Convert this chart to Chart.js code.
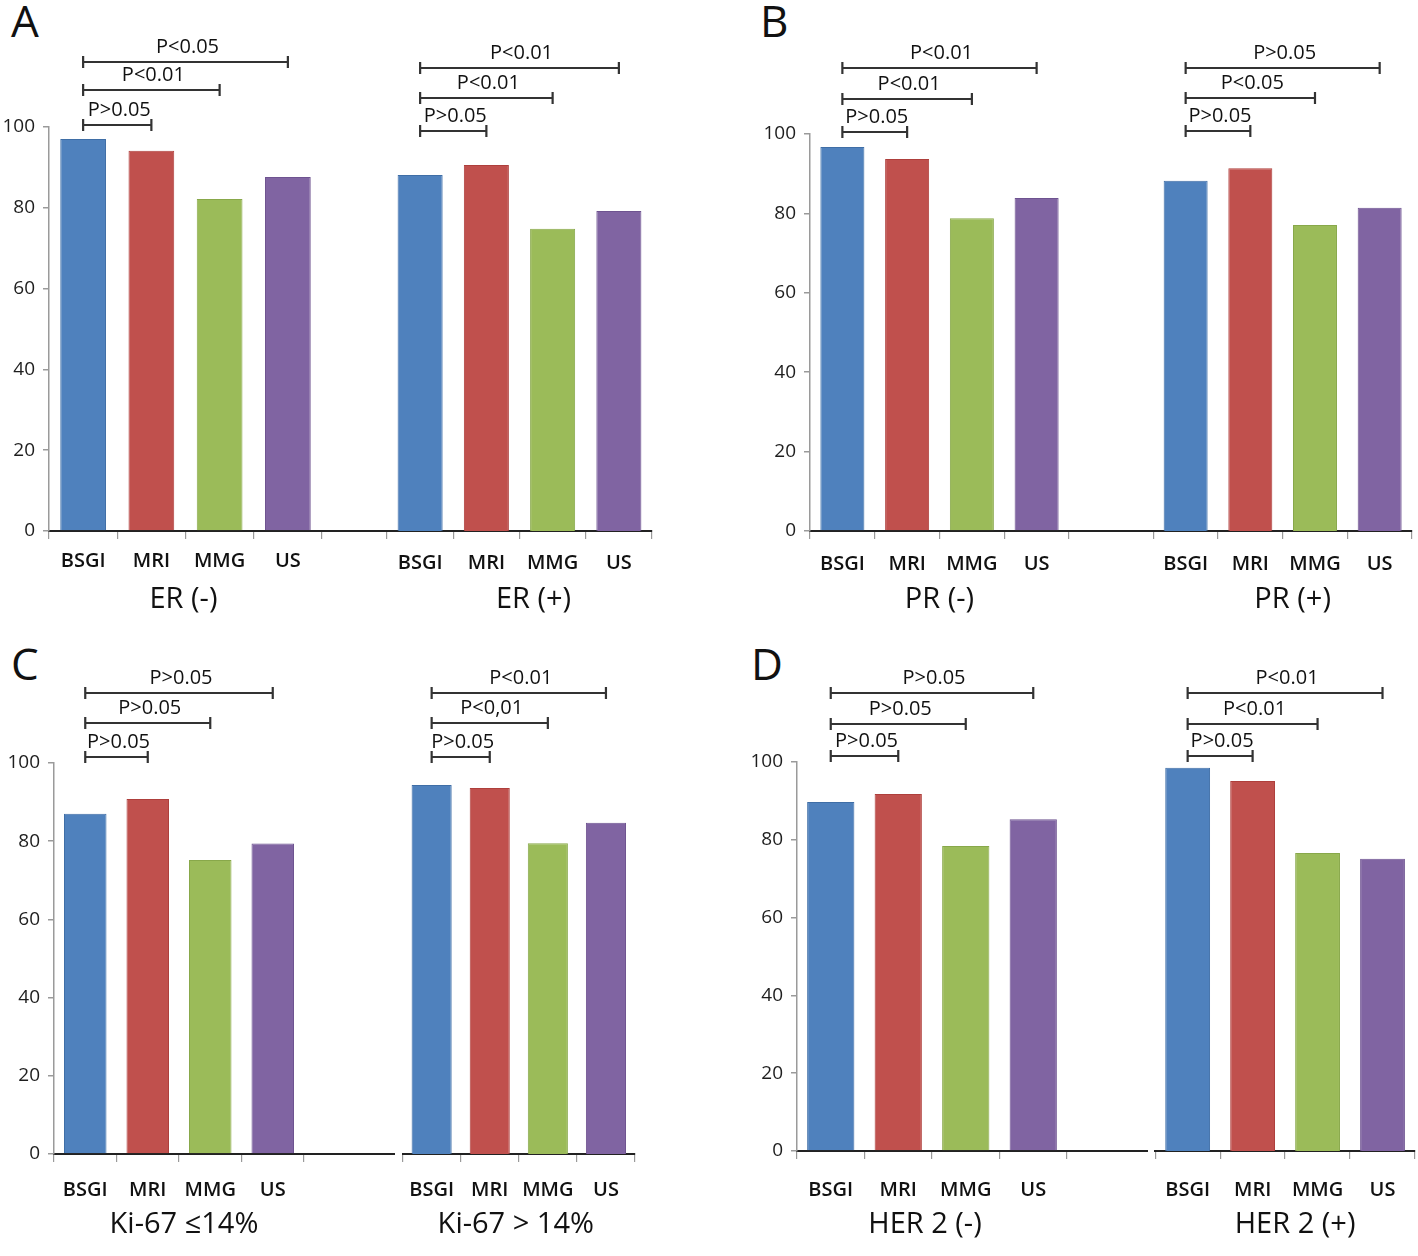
<!DOCTYPE html>
<html>
<head>
<meta charset="utf-8">
<script src="https://cdn.jsdelivr.net/npm/chart.js@4.4.1/dist/chart.umd.min.js"></script>
<style>
  html, body { margin: 0; padding: 0; background: #fff; }
  #wrap { position: relative; width: 1418px; height: 1256px; overflow: hidden; background: #fff; }
  #wrap canvas { position: absolute; }
  .letter { position: absolute; font-family: "Open Sans", sans-serif; font-size: 44px; line-height: 44px; color: #111; }
</style>
</head>
<body>
<div id="wrap">
  <div class="letter" style="left:11px; top:-2px;">A</div>
  <div class="letter" style="left:760px; top:-2px;">B</div>
  <div class="letter" style="left:11px; top:641px;">C</div>
  <div class="letter" style="left:751px; top:641px;">D</div>
</div>
<script>
// ---------------- DATA ----------------
const modalities = ["BSGI", "MRI", "MMG", "US"];
const yTicks = [0, 20, 40, 60, 80, 100];

const groupNamesA = ["ER (-)", "ER (+)"];
const groupNamesB = ["PR (-)", "PR (+)"];
const groupNamesC = ["Ki-67 ≤14%", "Ki-67 > 14%"];
const groupNamesD = ["HER 2 (-)", "HER 2 (+)"];

const erNeg   = [97.0, 94.1, 82.2, 87.6];
const erPos   = [88.1, 90.6, 74.8, 79.2];
const prNeg   = [96.7, 93.7, 78.8, 83.9];
const prPos   = [88.2, 91.4, 77.1, 81.4];
const kiLow   = [87.0, 90.8, 75.2, 79.4];
const kiHigh  = [94.4, 93.6, 79.5, 84.7];
const herNeg  = [89.7, 91.8, 78.4, 85.3];
const herPos  = [98.5, 95.1, 76.6, 75.1];

// comparisons: BSGI vs MRI, BSGI vs MMG, BSGI vs US
const comparisons = [["BSGI", "MRI"], ["BSGI", "MMG"], ["BSGI", "US"]];
const pErNeg  = ["P>0.05", "P<0.01", "P<0.05"];
const pErPos  = ["P>0.05", "P<0.01", "P<0.01"];
const pPrNeg  = ["P>0.05", "P<0.01", "P<0.01"];
const pPrPos  = ["P>0.05", "P<0.05", "P>0.05"];
const pKiLow  = ["P>0.05", "P>0.05", "P>0.05"];
const pKiHigh = ["P>0.05", "P<0,01", "P<0.01"];
const pHerNeg = ["P>0.05", "P>0.05", "P>0.05"];
const pHerPos = ["P>0.05", "P<0.01", "P<0.01"];

// ---------------- STYLE ----------------
const barColors  = ["#4F81BD", "#C0504D", "#9BBB59", "#8064A2"];
const barBorders = ["#3F6EA6", "#AE3F3C", "#88A84A", "#6E5390"];
const FONT = '"Open Sans", "DejaVu Sans", sans-serif';

const annotPlugin = {
  id: 'annot',
  afterDraw(chart, args, o) {
    const ctx = chart.ctx, area = chart.chartArea, xs = chart.scales.x;
    ctx.save();
    if (o.connector) {
      ctx.strokeStyle = '#222';
      ctx.lineWidth = 2;
      ctx.beginPath();
      ctx.moveTo(area.right, area.bottom);
      ctx.lineTo(area.right + o.connector, area.bottom);
      ctx.stroke();
    }
    // significance brackets
    ctx.strokeStyle = '#333';
    ctx.lineWidth = 2.2;
    ctx.fillStyle = '#111';
    ctx.font = '20px ' + FONT;
    ctx.textAlign = 'center';
    ctx.textBaseline = 'middle';
    (o.brackets || []).forEach((b, i) => {
      const x0 = xs.getPixelForValue(modalities.indexOf(b.from));
      const x1 = xs.getPixelForValue(modalities.indexOf(b.to));
      const yy = area.top + o.levels[i];
      ctx.beginPath();
      ctx.moveTo(x0, yy); ctx.lineTo(x1, yy);
      ctx.moveTo(x0, yy - 6); ctx.lineTo(x0, yy + 6);
      ctx.moveTo(x1, yy - 6); ctx.lineTo(x1, yy + 6);
      ctx.stroke();
      ctx.fillText(b.label, (x0 + x1) / 2 + 2, yy - 15);
    });
    // group label
    if (o.group) {
      ctx.font = '29px ' + FONT;
      ctx.fillStyle = '#111';
      ctx.fillText(o.group, (area.left + area.right) / 2 + (o.labelDx || 0), area.bottom + o.labelDy);
    }
    ctx.restore();
  }
};

function makeChart(geom, values, pLabels, groupName, withY, style) {
  const cv = document.createElement('canvas');
  cv.width = geom.w; cv.height = geom.h;
  cv.style.left = geom.left + 'px';
  cv.style.top = geom.top + 'px';
  cv.style.width = geom.w + 'px';
  cv.style.height = geom.h + 'px';
  document.getElementById('wrap').appendChild(cv);
  const brackets = comparisons.map((c, i) => ({ from: c[0], to: c[1], label: pLabels[i] }));
  new Chart(cv.getContext('2d'), {
    type: 'bar',
    data: {
      labels: modalities,
      datasets: [{
        data: values,
        backgroundColor: barColors,
        borderColor: barBorders,
        borderWidth: 1,
        barPercentage: style.barPct,
        categoryPercentage: 1.0
      }]
    },
    options: {
      responsive: false,
      animation: false,
      devicePixelRatio: 1,
      layout: { padding: { top: geom.padTop, right: geom.padRight, left: geom.padLeft, bottom: 0 } },
      plugins: {
        legend: { display: false },
        tooltip: { enabled: false },
        annot: {
          brackets: brackets,
          levels: style.levels,
          group: groupName,
          labelDx: style.labelDx,
          labelDy: style.labelDy,
          connector: geom.connector || 0
        }
      },
      scales: {
        x: {
          type: 'category',
          offset: true,
          grid: { offset: true, drawOnChartArea: false, drawTicks: true, tickLength: 8, color: '#9a9a9a', lineWidth: 1.2 },
          border: { display: true, color: '#222', width: 2 },
          ticks: { font: { family: FONT, size: 20, weight: '600' }, color: '#111', padding: style.xPad, maxRotation: 0, autoSkip: false },
          afterFit: s => { s.height = geom.xAxisH; }
        },
        y: {
          display: withY,
          min: 0, max: 100,
          afterBuildTicks: s => { s.ticks = yTicks.map(v => ({ value: v })); },
          grid: { drawOnChartArea: false, drawTicks: true, tickLength: 6, color: '#9a9a9a', lineWidth: 1.5 },
          border: { display: true, color: '#9a9a9a', width: 1.5 },
          ticks: { font: { family: FONT, size: 19 }, color: '#1e1e1e', padding: 8 },
          afterFit: s => { if (withY) s.width = geom.yAxisW; }
        }
      }
    },
    plugins: [annotPlugin]
  });
}

// panel geometry (pixel layout)
function panel(p) {
  const leftGeom = {
    left: p.x0, top: p.top, w: p.g2[0] - p.x0, h: p.h,
    padTop: p.t - p.top, padRight: p.g2[0] - p.g1[1], padLeft: 0,
    yAxisW: p.g1[0] - p.x0, xAxisH: p.top + p.h - p.b,
    connector: p.g2[0] - p.g1[1]
  };
  const rightGeom = {
    left: p.g2[0] - 2, top: p.top, w: p.x1 - (p.g2[0] - 2), h: p.h,
    padTop: p.t - p.top, padRight: p.x1 - p.g2[1], padLeft: 2,
    yAxisW: 0, xAxisH: p.top + p.h - p.b
  };
  makeChart(leftGeom, p.v1, p.p1, p.n[0], true, p.s1);
  makeChart(rightGeom, p.v2, p.p2, p.n[1], false, p.s2);
}

panel({ x0: 0, x1: 712, top: 0, h: 636, t: 127, b: 531, g1: [49, 322], g2: [387, 652],
  v1: erNeg, v2: erPos, p1: pErNeg, p2: pErPos, n: groupNamesA,
  s1: { barPct: 0.67, levels: [-2, -37, -65], labelDx: -2, labelDy: 69, xPad: 10 },
  s2: { barPct: 0.68, levels: [4, -29, -59], labelDx: 14, labelDy: 69, xPad: 12 } });

panel({ x0: 716, x1: 1418, top: 0, h: 636, t: 134, b: 531, g1: [810, 1069], g2: [1152, 1412],
  v1: prNeg, v2: prPos, p1: pPrNeg, p2: pPrPos, n: groupNamesB,
  s1: { barPct: 0.68, levels: [-2, -35, -66], labelDx: 0, labelDy: 69, xPad: 13 },
  s2: { barPct: 0.68, levels: [-3, -36, -66], labelDx: 10, labelDy: 69, xPad: 13 } });

panel({ x0: 0, x1: 712, top: 636, h: 620, t: 763, b: 1154, g1: [54, 304], g2: [395, 635],
  v1: kiLow, v2: kiHigh, p1: pKiLow, p2: pKiHigh, n: groupNamesC,
  s1: { barPct: 0.68, levels: [-6, -40, -70], labelDx: 5, labelDy: 71, xPad: 16 },
  s2: { barPct: 0.69, levels: [-6, -40, -70], labelDx: -3, labelDy: 71, xPad: 16 } });

panel({ x0: 716, x1: 1418, top: 636, h: 620, t: 762, b: 1151, g1: [797, 1067], g2: [1148, 1415],
  v1: herNeg, v2: herPos, p1: pHerNeg, p2: pHerPos, n: groupNamesD,
  s1: { barPct: 0.70, levels: [-6, -38, -69], labelDx: -7, labelDy: 74, xPad: 19 },
  s2: { barPct: 0.69, levels: [-6, -38, -69], labelDx: 10, labelDy: 74, xPad: 19 } });
</script>
</body>
</html>
